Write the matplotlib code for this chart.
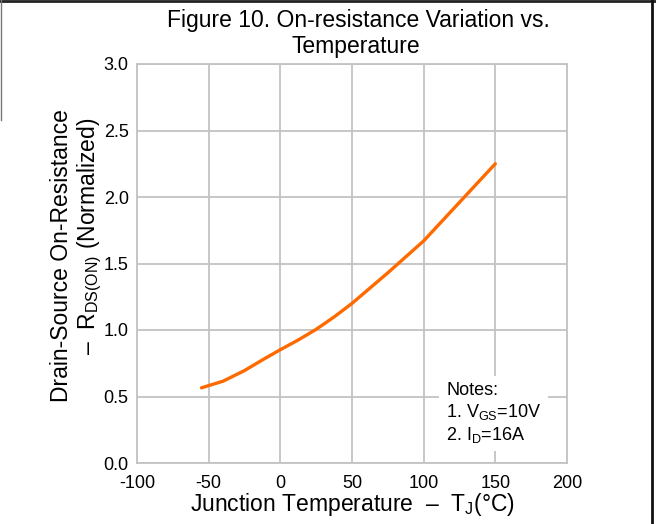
import matplotlib
matplotlib.use("Agg")
import matplotlib.pyplot as plt
from matplotlib.lines import Line2D

plt.rcParams['font.family'] = ['Liberation Sans', 'DejaVu Sans']
plt.rcParams['mathtext.fontset'] = 'custom'
plt.rcParams['mathtext.rm'] = 'Liberation Sans'
plt.rcParams['mathtext.it'] = 'Liberation Sans'
plt.rcParams['mathtext.default'] = 'regular'

# Data
temperature = [-55, -50, -40, -25, -12.5, 0, 12.5, 25, 37.5, 50, 75, 100, 125, 150]
rds_norm = [0.565, 0.582, 0.615, 0.695, 0.775, 0.852, 0.925, 1.005, 1.098, 1.20, 1.43, 1.67, 1.96, 2.25]
x_ticks = [-100, -50, 0, 50, 100, 150, 200]
y_ticks = [0.0, 0.5, 1.0, 1.5, 2.0, 2.5, 3.0]

fig = plt.figure(figsize=(6.56, 5.24), dpi=100)
ax = fig.add_axes([137/656, 1-463/524, (567-137)/656, (463-64)/524])

grid_c = '#c3c3c3'
ax.plot(temperature, rds_norm, color='#ff6a00', lw=2.4, solid_capstyle='round',
        solid_joinstyle='round', zorder=3)
ax.set_xlim(-100, 200)
ax.set_ylim(0, 3.0)
ax.set_xticks(x_ticks)
ax.set_xticklabels([str(v) for v in x_ticks])
ax.set_yticks(y_ticks)
ax.set_yticklabels([f"{v:.1f}" for v in y_ticks])
ax.tick_params(length=0, labelsize=13, colors='black')
ax.tick_params(axis='x', pad=9)
ax.tick_params(axis='y', pad=6)
ax.grid(True, color=grid_c, lw=1.3)
ax.set_axisbelow(True)
for s in ax.spines.values():
    s.set_color(grid_c)
    s.set_linewidth(1.3)

# Notes box
ax.text((446-137)/430, 0.125, "Notes:\n1. V$_{GS}$=10V\n2. I$_{D}$=16A", transform=ax.transAxes,
        ha='left', va='center', fontsize=13, linespacing=1.2,
        bbox=dict(facecolor='white', edgecolor='none', pad=5), zorder=4)

# Title
fig.text(358/656, 1-20/524, "Figure 10. On-resistance Variation vs.", ha='center', va='center', fontsize=16.5)
fig.text(356/656, 1-47/524, "Temperature", ha='center', va='center', fontsize=16.5)

# X label
fig.text(352/656, 1-505/524, "Junction Temperature  \u2013  T$_{J}$(°C)", ha='center', va='center', fontsize=16.5)

# Y labels
fig.text(62/656, 1-256/524, "Drain-Source On-Resistance", rotation=90, ha='center', va='center', fontsize=16.5)
fig.text(90/656, 1-236/524, "\u2013  R$_{DS(ON)}$ (Normalized)", rotation=90, ha='center', va='center', fontsize=16.5)

# Screenshot frame
fig.add_artist(Line2D([0, 1], [1-1/524, 1-1/524], transform=fig.transFigure, color='#222222', lw=2))
fig.add_artist(Line2D([652/656, 652/656], [0, 1], transform=fig.transFigure, color='#111111', lw=2))
fig.add_artist(Line2D([0.5/656, 0.5/656], [1-120/524, 1], transform=fig.transFigure, color='#777777', lw=1))

fig.savefig("out.png", dpi=100, facecolor='white')
